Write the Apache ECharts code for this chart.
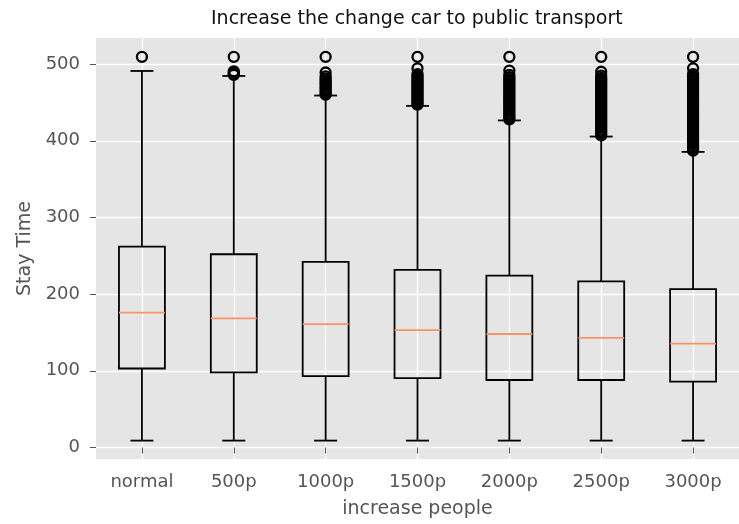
<!DOCTYPE html>
<html>
<head>
<meta charset="utf-8">
<script src="https://cdn.jsdelivr.net/npm/echarts@6/dist/echarts.min.js"></script>
<style>html,body{margin:0;padding:0;background:#fff;}#c{width:739px;height:524px;}</style>
</head>
<body>
<div id="c"></div>
<script>
const categories = ['normal', '500p', '1000p', '1500p', '2000p', '2500p', '3000p'];
const whiskerLow = [9, 9, 9, 9, 9, 9, 9];
const q1 = [103, 98, 93, 90.5, 88, 88, 86];
const median = [176, 168.5, 161, 153, 148, 143, 135.5];
const q3 = [262, 252, 242, 231.5, 224, 216.5, 206.5];
const whiskerHigh = [491, 484.5, 459, 445.5, 426.5, 405.5, 385.5];
const outliers = [
  [509.5],
  [486, 487.5, 489, 490.5, 509.5],
  [460, 462, 464.5, 467, 469, 471.5, 474, 476, 478.5, 481, 484, 489, 509.5],
  [447, 449, 451.5, 454, 456, 458.5, 461, 463, 465.5, 468, 470, 472.5, 475, 477, 479.5, 482, 484.5, 487, 494.5, 509.5],
  [428, 430.5, 433, 435.5, 438, 440.5, 443, 445.5, 448, 450.5, 453, 455.5, 458, 460.5, 463, 465.5, 468, 470.5, 473, 475.5, 478, 480.5, 483, 486, 491.5, 509.5],
  [407, 409.5, 412, 414.5, 417, 419.5, 422, 424.5, 427, 429.5, 432, 434.5, 437, 439.5, 442, 444.5, 447, 449.5, 452, 454.5, 457, 459.5, 462, 464.5, 467, 469.5, 472, 474.5, 477, 479.5, 482, 485, 490, 509.5],
  [387, 389.5, 392, 394.5, 397, 399.5, 402, 404.5, 407, 409.5, 412, 414.5, 417, 419.5, 422, 424.5, 427, 429.5, 432, 434.5, 437, 439.5, 442, 444.5, 447, 449.5, 452, 454.5, 457, 459.5, 462, 464.5, 467, 469.5, 472, 474.5, 477, 479.5, 482, 484.5, 487, 494.5, 509.5]
];
const yTicks = [0, 100, 200, 300, 400, 500];
const xTicks = [1, 2, 3, 4, 5, 6, 7];
const titleText = 'Increase the change car to public transport';
const xName = 'increase people';
const yName = 'Stay Time';

const FONT = 'DejaVu Sans';
const boxData = categories.map((c, i) => [i + 1, whiskerLow[i], q1[i], median[i], q3[i], whiskerHigh[i]]);
const flierData = [];
outliers.forEach((arr, i) => arr.forEach(v => flierData.push([i + 1, v])));

const chart = echarts.init(document.getElementById('c'), null, {renderer: 'canvas'});
chart.setOption({
  animation: false,
  backgroundColor: '#ffffff',
  title: {
    text: titleText, left: 211, top: 10, padding: 0,
    textStyle: {fontFamily: FONT, fontSize: 19, fontWeight: 'normal', color: '#111'}
  },
  grid: {left: 96, right: -9, top: 38, bottom: 64, show: true, backgroundColor: '#E5E5E5', borderWidth: 0},
  xAxis: {
    type: 'value', min: 0.5, max: 7.5,
    name: xName, nameLocation: 'middle', nameGap: 41,
    nameTextStyle: {fontFamily: FONT, fontSize: 19, color: '#555'},
    axisLine: {show: false},
    axisTick: {show: true, customValues: xTicks, length: 6, lineStyle: {color: '#555', width: 1}},
    axisLabel: {customValues: xTicks, formatter: v => categories[Math.round(v) - 1] || '', fontFamily: FONT, fontSize: 18, color: '#555', margin: 14},
    splitLine: {show: true, lineStyle: {color: '#ffffff', width: 1.3}}
  },
  yAxis: {
    type: 'value', min: -15, max: 534,
    name: yName, nameLocation: 'middle', nameGap: 60, nameRotate: 90,
    nameTextStyle: {fontFamily: FONT, fontSize: 19, color: '#555'},
    axisLine: {show: false},
    axisTick: {show: true, customValues: yTicks, length: 6, lineStyle: {color: '#555', width: 1}},
    axisLabel: {customValues: yTicks, fontFamily: FONT, fontSize: 18, color: '#555', margin: 16},
    splitLine: {show: true, lineStyle: {color: '#ffffff', width: 1.3}}
  },
  series: [
    {
      type: 'custom',
      data: boxData,
      z: 3,
      renderItem: function (params, api) {
        const x = api.value(0);
        const lo = api.coord([x, api.value(1)]);
        const a = api.coord([x, api.value(2)]);
        const m = api.coord([x, api.value(3)]);
        const b = api.coord([x, api.value(4)]);
        const hi = api.coord([x, api.value(5)]);
        const bw = api.size([1, 0])[0];
        const half = bw * 0.25, cap = bw * 0.125;
        const cx = a[0];
        const ls = {stroke: '#000', lineWidth: 1.8, fill: null};
        return {
          type: 'group',
          children: [
            {type: 'line', shape: {x1: cx, y1: b[1], x2: cx, y2: hi[1]}, style: ls},
            {type: 'line', shape: {x1: cx, y1: lo[1], x2: cx, y2: a[1]}, style: ls},
            {type: 'line', shape: {x1: cx - cap, y1: hi[1], x2: cx + cap, y2: hi[1]}, style: ls},
            {type: 'line', shape: {x1: cx - cap, y1: lo[1], x2: cx + cap, y2: lo[1]}, style: ls},
            {type: 'rect', shape: {x: cx - half, y: b[1], width: 2 * half, height: a[1] - b[1]}, style: {stroke: '#000', lineWidth: 1.8, fill: 'rgba(0,0,0,0)'}},
            {type: 'line', shape: {x1: cx - half, y1: m[1], x2: cx + half, y2: m[1]}, style: {stroke: '#f7936a', lineWidth: 1.8}}
          ]
        };
      }
    },
    {
      type: 'scatter',
      data: flierData,
      z: 4,
      symbol: 'circle',
      symbolSize: 10,
      itemStyle: {color: 'rgba(0,0,0,0)', borderColor: '#000', borderWidth: 2.3, opacity: 1}
    }
  ]
});
</script>
</body>
</html>
